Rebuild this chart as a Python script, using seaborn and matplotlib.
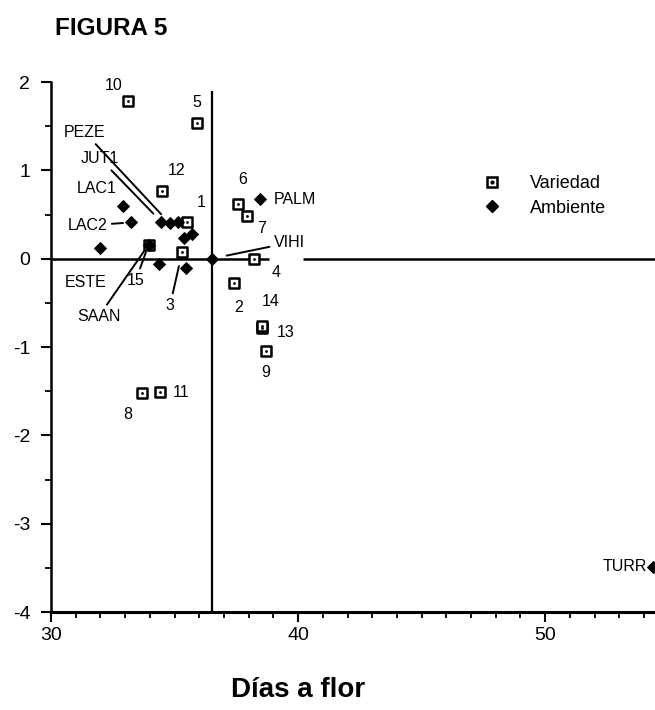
import matplotlib
matplotlib.use('Agg')
import matplotlib.pyplot as plt
import seaborn as sns
import pandas as pd
from matplotlib.lines import Line2D
from matplotlib.legend_handler import HandlerTuple
from matplotlib.ticker import MultipleLocator

# Variedades (cuadros)
var_labels = [str(i) for i in range(1, 16)]
var_dias = [35.5, 37.4, 35.3, 38.2, 35.9, 37.55, 37.95, 33.7, 38.7, 33.1, 34.4, 34.5, 38.55, 38.55, 33.95]
var_comp = [0.42, -0.27, 0.07, 0.0, 1.54, 0.62, 0.48, -1.52, -1.05, 1.78, -1.51, 0.77, -0.79, -0.76, 0.16]

# Ambientes (rombos)
amb_labels = ['LAC1', 'LAC2', 'ESTE', 'SAAN', '', 'JUT1', 'PEZE', '', '', '', '', 'VIHI', 'PALM', 'TURR']
amb_dias = [32.9, 33.25, 32.0, 33.95, 34.35, 34.45, 34.8, 35.15, 35.4, 35.7, 35.45, 36.5, 38.45, 54.35]
amb_comp = [0.60, 0.41, 0.12, 0.16, -0.06, 0.42, 0.40, 0.41, 0.23, 0.28, -0.10, 0.0, 0.67, -3.49]

x_ticks = [30, 40, 50]
y_ticks = [-4, -3, -2, -1, 0, 1, 2]

# desplazamiento de etiquetas (pixeles) y si llevan linea guia
var_off = {'1': (14, 19), '2': (5, -25), '3': (-12, -53), '4': (22, -14), '5': (0, 20),
           '6': (5, 24), '7': (14, -12), '8': (-15, -22), '9': (0, -21), '10': (-14, 16),
           '11': (21, 0), '12': (14, 20), '13': (23, -4), '14': (8, 24), '15': (-13, -36)}
amb_off = {'LAC1': (-26, 17), 'LAC2': (-44, -3), 'ESTE': (-15, -34), 'SAAN': (-50, -72),
           'JUT1': (-61, 63), 'PEZE': (-85, 91), 'VIHI': (78, 16), 'PALM': (35, 0),
           'TURR': (-28, 0)}
leaders = {'3': 10, '15': 6, 'LAC2': 6, 'SAAN': 6, 'JUT1': 8, 'PEZE': 9, 'VIHI': 11}

df_var = pd.DataFrame({'dias': var_dias, 'comp': var_comp, 'lab': var_labels})
df_amb = pd.DataFrame({'dias': amb_dias, 'comp': amb_comp, 'lab': amb_labels})

sns.set_style('ticks')
plt.rcParams['font.family'] = ['Liberation Sans', 'DejaVu Sans']
plt.rcParams['axes.unicode_minus'] = False
for k in ['text.color', 'axes.labelcolor', 'xtick.color', 'ytick.color', 'axes.edgecolor']:
    plt.rcParams[k] = 'black'

fig = plt.figure(figsize=(6.55, 7.1), dpi=100)
ax = fig.add_axes([0.078, 0.138, 0.924, 0.7465])

# ejes de referencia
ax.vlines(36.5, -4, 1.9, color='black', lw=1.6, zorder=1)
ax.hlines(0, 30, 38.83, color='black', lw=1.8, zorder=1)
ax.hlines(0, 40.2, 54.5, color='black', lw=1.8, zorder=1)

sns.scatterplot(data=df_var, x='dias', y='comp', marker='s', s=50, color='white',
                edgecolor='black', linewidth=1.8, ax=ax, zorder=3)
sns.scatterplot(data=df_var, x='dias', y='comp', marker='o', s=4, color='black',
                edgecolor='black', linewidth=0, ax=ax, zorder=4)
sns.scatterplot(data=df_amb, x='dias', y='comp', marker='D', s=46, color='black',
                edgecolor='black', linewidth=0, ax=ax, zorder=5, clip_on=False)

def etiquetar(df, offs):
    for _, r in df.iterrows():
        if not r['lab']:
            continue
        dx, dy = offs[r['lab']]
        kw = {}
        if r['lab'] in leaders:
            kw['arrowprops'] = dict(arrowstyle='-', color='black', lw=1.4,
                                    shrinkA=1, shrinkB=leaders[r['lab']])
        ax.annotate(r['lab'], (r['dias'], r['comp']), xytext=(dx, dy),
                    textcoords='offset pixels', ha='center', va='center',
                    fontsize=11.5, zorder=6, **kw)

etiquetar(df_var, var_off)
etiquetar(df_amb, amb_off)

ax.set_xlim(30, 54.5)
ax.set_ylim(-4, 2)
ax.set_xticks(x_ticks)
ax.set_yticks(y_ticks)
ax.xaxis.set_minor_locator(MultipleLocator(1))
ax.yaxis.set_minor_locator(MultipleLocator(0.5))
ax.tick_params(axis='both', which='major', length=7, width=1.5, labelsize=14)
ax.tick_params(axis='both', which='minor', length=4, width=1.3)
ax.tick_params(axis='y', pad=8)
for s in ['top', 'right']:
    ax.spines[s].set_visible(False)
ax.spines['left'].set_linewidth(1.8)
ax.spines['bottom'].set_linewidth(2.2)
ax.set_xlabel('')
ax.set_ylabel('')

sq = Line2D([], [], marker='s', ls='', markersize=7, markerfacecolor='white',
            markeredgecolor='black', markeredgewidth=1.8)
dot = Line2D([], [], marker='o', ls='', markersize=2, color='black')
dia = Line2D([], [], marker='D', ls='', markersize=6, color='black')
fig.legend([(sq, dot), dia], ['Variedad', 'Ambiente'], handler_map={tuple: HandlerTuple(ndivide=1)},
           loc='upper left', bbox_to_anchor=(0.71, 0.776), frameon=False, fontsize=13,
           handlelength=1.2, handletextpad=1.5, labelspacing=0.4)

fig.text(0.084, 0.96, 'FIGURA 5', fontsize=17.5, fontweight='bold', ha='left', va='center')
fig.text(0.455, 0.028, 'Días a flor', fontsize=20, fontweight='bold', ha='center', va='center')

fig.savefig('out.png', dpi=100)
